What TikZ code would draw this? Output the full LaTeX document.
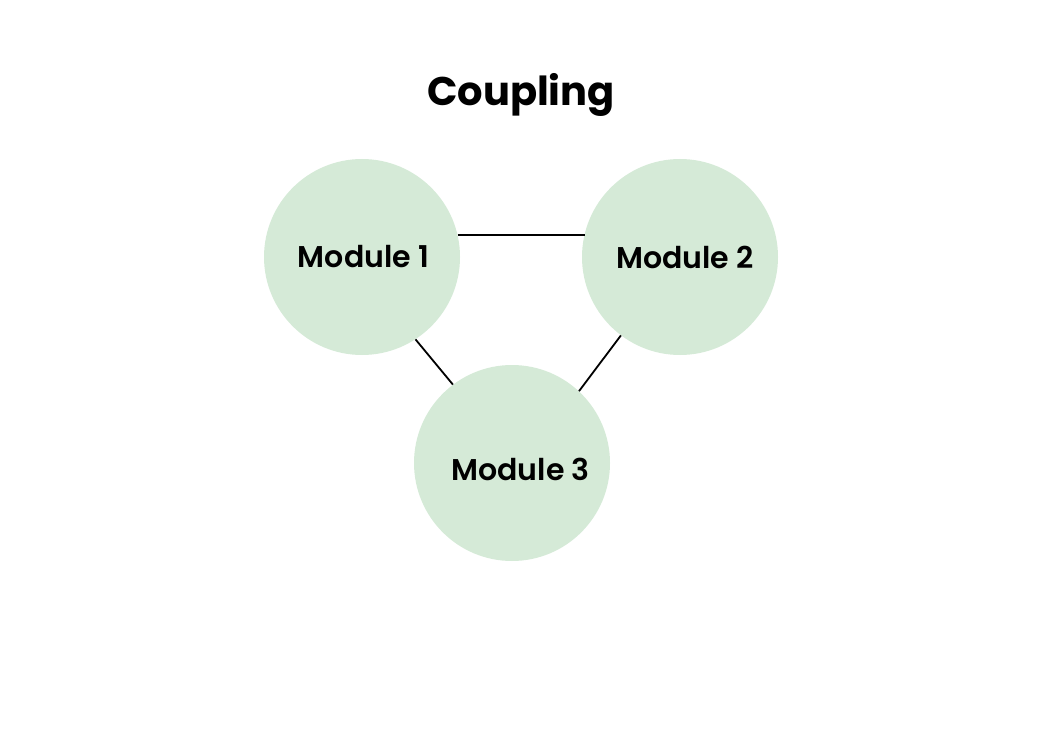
\documentclass[tikz,border=0pt]{standalone}
\usepackage{fontspec}
\setmainfont{Poppins}
\newfontfamily\pmed{Poppins}[UprightFont=* SemiBold]
\definecolor{modfill}{HTML}{D5EAD7}
\tikzset{
  module/.style={circle, fill=modfill, draw=none, minimum size=196pt, inner sep=0pt},
  modtext/.style={font=\pmed\fontsize{30}{36}\selectfont, text=black},
  link/.style={draw=black, line width=1.8pt},
  titletext/.style={font=\bfseries\fontsize{40}{48}\selectfont, text=black}
}
\begin{document}
\begin{tikzpicture}[x=1pt,y=-1pt]
\useasboundingbox (0,0) rectangle (1043,746);
\node[titletext] (title) at (521,95) {Coupling};
\node[module, label={[modtext, xshift=1.5pt]center:Module 1}] (m1) at (362,257) {};
\node[module, label={[modtext, xshift=5pt]center:Module 2}] (m2) at (680,257) {};
\node[module, label={[modtext, xshift=8.5pt, yshift=-6pt]center:Module 3}] (m3) at (512,463) {};
\draw[link] (m1.13.6) -- (m1.13.6 -| m2.166.4);
\draw[link] (m1.-57) -- (m3.127);
\draw[link] (m2.233) -- (m3.47);
\end{tikzpicture}
\end{document}
